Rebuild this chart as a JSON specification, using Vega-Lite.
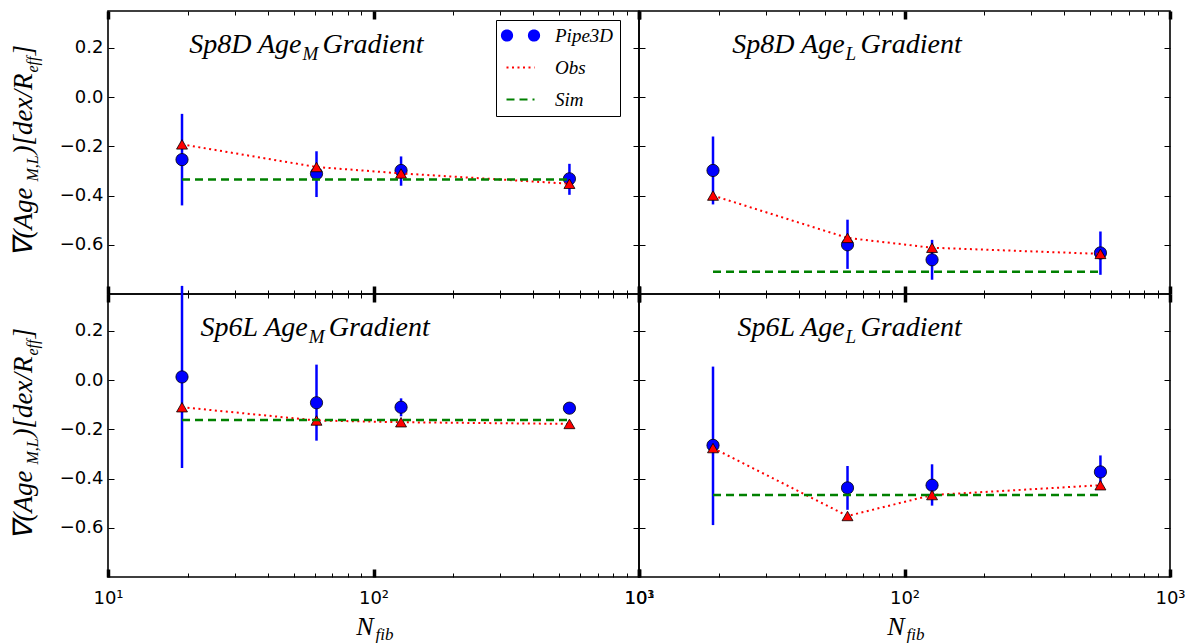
{
 "$schema": "https://vega.github.io/schema/vega-lite/v6.json",
 "background": "white",
 "padding": {"left": 8, "top": 8, "right": 2, "bottom": 0},
 "datasets": {
  "pts": [
   {"panel": "TL", "N": 19, "pipe": -0.254, "lo": -0.44, "hi": -0.068, "obs": -0.192, "sim": -0.335},
   {"panel": "TL", "N": 61, "pipe": -0.311, "lo": -0.406, "hi": -0.22, "obs": -0.284, "sim": -0.335},
   {"panel": "TL", "N": 127, "pipe": -0.298, "lo": -0.36, "hi": -0.241, "obs": -0.31, "sim": -0.335},
   {"panel": "TL", "N": 547, "pipe": -0.332, "lo": -0.397, "hi": -0.271, "obs": -0.352, "sim": -0.335},
   {"panel": "TR", "N": 19, "pipe": -0.298, "lo": -0.436, "hi": -0.16, "obs": -0.4, "sim": -0.71},
   {"panel": "TR", "N": 61, "pipe": -0.6, "lo": -0.698, "hi": -0.498, "obs": -0.572, "sim": -0.71},
   {"panel": "TR", "N": 127, "pipe": -0.661, "lo": -0.742, "hi": -0.58, "obs": -0.612, "sim": -0.71},
   {"panel": "TR", "N": 547, "pipe": -0.633, "lo": -0.722, "hi": -0.546, "obs": -0.637, "sim": -0.71},
   {"panel": "BL", "N": 19, "pipe": 0.013, "lo": -0.357, "hi": 0.383, "obs": -0.11, "sim": -0.162},
   {"panel": "BL", "N": 61, "pipe": -0.092, "lo": -0.246, "hi": 0.063, "obs": -0.164, "sim": -0.162},
   {"panel": "BL", "N": 127, "pipe": -0.11, "lo": -0.147, "hi": -0.074, "obs": -0.171, "sim": -0.162},
   {"panel": "BL", "N": 547, "pipe": -0.114, "lo": -0.13, "hi": -0.098, "obs": -0.178, "sim": -0.162},
   {"panel": "BR", "N": 19, "pipe": -0.265, "lo": -0.589, "hi": 0.055, "obs": -0.276, "sim": -0.467},
   {"panel": "BR", "N": 61, "pipe": -0.438, "lo": -0.527, "hi": -0.349, "obs": -0.552, "sim": -0.467},
   {"panel": "BR", "N": 127, "pipe": -0.427, "lo": -0.51, "hi": -0.342, "obs": -0.467, "sim": -0.467},
   {"panel": "BR", "N": 547, "pipe": -0.373, "lo": -0.44, "hi": -0.306, "obs": -0.427, "sim": -0.467}
  ]
 },
 "columns": 2,
 "spacing": 0,
 "bounds": "flush",
 "concat": [
   {
    "width": 531, "height": 283,
    "data": {"name": "pts"},
    "transform": [{"filter": "datum.panel === 'TL'"}],
    "resolve": {"axis": {"x": "independent", "y": "independent"}},
    "layer": [
     {"mark": {"type": "rule", "color": "#0000ff", "strokeWidth": 2.5},
      "encoding": {
       "x": {"field": "N", "type": "quantitative", "scale": {"type": "log", "domain": [10, 1000], "nice": false},
             "axis": {"orient": "bottom", "values": [10, 100, 1000], "tickSize": -8, "tickWidth": 3.5, "labels": false, "title": null}},
       "y": {"field": "lo", "type": "quantitative", "scale": {"domain": [-0.8, 0.35], "nice": false, "zero": false},
             "axis": {"orient": "left", "values": [-0.6, -0.4, -0.2, 0, 0.2], "format": ".1f", "tickSize": -6, "tickWidth": 1, "labelPadding": 11, "title": "∇(Age", "titleFontSize": 27, "titleAngle": 270, "titleX": -77, "titleY": 245, "titleAlign": "left", "titleBaseline": "alphabetic"}},
       "y2": {"field": "hi"}}},
     {"mark": {"type": "point", "shape": "circle", "filled": true, "size": 150, "fill": "#0000ff", "stroke": "black", "strokeWidth": 0.8, "opacity": 1},
      "encoding": {
       "x": {"field": "N", "type": "quantitative", "axis": {"orient": "top", "values": [10, 100, 1000], "tickSize": -8, "tickWidth": 3.5, "labels": false, "title": null}},
       "y": {"field": "pipe", "type": "quantitative", "axis": {"orient": "right", "values": [-0.6, -0.4, -0.2, 0, 0.2], "tickSize": -6, "tickWidth": 1, "labels": false, "title": null}}}},
     {"mark": {"type": "point", "filled": true, "opacity": 0},
      "encoding": {
       "x": {"field": "N", "type": "quantitative", "axis": null},
       "y": {"field": "pipe", "type": "quantitative", "axis": null},
       "shape": {"datum": "Pipe3D", "type": "nominal",
        "scale": {"domain": ["Pipe3D", "Obs", "Sim"], "range": ["M -3.7 0 A 1 1 0 1 0 -1.7 0 A 1 1 0 1 0 -3.7 0 Z M 1.7 0 A 1 1 0 1 0 3.7 0 A 1 1 0 1 0 1.7 0 Z", "M -2.8 0 L 2.8 0", "M -2.8 0 L 2.8 0"]},
        "legend": {"orient": "none", "legendX": 388, "legendY": 9, "title": null, "strokeColor": "black", "fillColor": "white", "padding": 6, "cornerRadius": 0,
         "labelFont": "Liberation Serif", "labelFontStyle": "italic", "labelFontSize": 19, "labelColor": "black",
         "symbolSize": 100, "symbolOffset": 9, "labelOffset": 25, "rowPadding": 12, "symbolOpacity": 1, "symbolStrokeWidth": 2.2}},
       "fill": {"datum": "Pipe3D", "type": "nominal", "scale": {"domain": ["Pipe3D", "Obs", "Sim"], "range": ["#0000ff", "transparent", "transparent"]}},
       "stroke": {"datum": "Pipe3D", "type": "nominal", "scale": {"domain": ["Pipe3D", "Obs", "Sim"], "range": ["#0000ff", "#ff0000", "#008000"]}},
       "strokeDash": {"datum": "Pipe3D", "type": "nominal", "scale": {"domain": ["Pipe3D", "Obs", "Sim"], "range": [[1, 0], [2, 3.5], [8, 5]]}}}},
     {"mark": {"type": "line", "strokeWidth": 2, "strokeDash": [2, 3.5], "color": "#ff0000"},
      "encoding": {
       "x": {"field": "N", "type": "quantitative", "axis": {"orient": "top", "values": [20, 30, 40, 50, 60, 70, 80, 90, 200, 300, 400, 500, 600, 700, 800, 900], "tickSize": -4, "tickWidth": 1, "labels": false, "title": null}},
       "y": {"field": "obs", "type": "quantitative", "axis": {"orient": "left", "ticks": false, "labels": false, "title": ")[dex/R", "titleFontSize": 27, "titleAngle": 270, "titleX": -77, "titleY": 143, "titleAlign": "left", "titleBaseline": "alphabetic"}}}},
     {"mark": {"type": "point", "shape": "triangle-up", "filled": true, "size": 120, "fill": "#ff0000", "stroke": "black", "strokeWidth": 0.8, "opacity": 1},
      "encoding": {
       "x": {"field": "N", "type": "quantitative", "axis": {"orient": "bottom", "values": [20, 30, 40, 50, 60, 70, 80, 90, 200, 300, 400, 500, 600, 700, 800, 900], "tickSize": -4, "tickWidth": 1, "labels": false, "title": null}},
       "y": {"field": "obs", "type": "quantitative", "axis": {"orient": "left", "ticks": false, "labels": false, "title": "M,L", "titleFontSize": 16, "titleAngle": 270, "titleX": -71, "titleY": 170, "titleAlign": "left", "titleBaseline": "alphabetic"}}}},
     {"mark": {"type": "line", "strokeWidth": 2.5, "strokeDash": [8, 5], "color": "#008000"},
      "encoding": {
       "x": {"field": "N", "type": "quantitative", "axis": null},
       "y": {"field": "sim", "type": "quantitative", "axis": {"orient": "left", "ticks": false, "labels": false, "title": "eff", "titleFontSize": 16, "titleAngle": 270, "titleX": -71, "titleY": 61, "titleAlign": "left", "titleBaseline": "alphabetic"}}}},
     {"transform": [{"filter": "datum.N == 19"}],
      "mark": {"type": "text", "text": "Sp8D Age", "align": "right", "baseline": "alphabetic", "font": "Liberation Serif", "fontStyle": "italic", "fontSize": 28, "dx": -1, "color": "black"},
      "encoding": {"x": {"datum": 54, "type": "quantitative", "axis": null},
       "y": {"datum": 0.18, "type": "quantitative", "axis": {"orient": "left", "ticks": false, "labels": false, "title": "]", "titleFontSize": 27, "titleAngle": 270, "titleX": -77, "titleY": 44, "titleAlign": "left", "titleBaseline": "alphabetic"}}}},
     {"transform": [{"filter": "datum.N == 19"}],
      "mark": {"type": "text", "text": "M", "align": "left", "baseline": "alphabetic", "font": "Liberation Serif", "fontStyle": "italic", "fontSize": 19, "dy": 7, "color": "black"},
      "encoding": {"x": {"datum": 54, "type": "quantitative", "axis": null}, "y": {"datum": 0.18, "type": "quantitative", "axis": null}}},
     {"transform": [{"filter": "datum.N == 19"}],
      "mark": {"type": "text", "text": "Gradient", "align": "left", "baseline": "alphabetic", "font": "Liberation Serif", "fontStyle": "italic", "fontSize": 28, "dx": 20, "color": "black"},
      "encoding": {"x": {"datum": 54, "type": "quantitative", "axis": null}, "y": {"datum": 0.18, "type": "quantitative", "axis": null}}}
    ]
   },
   {
    "width": 531, "height": 283,
    "data": {"name": "pts"},
    "transform": [{"filter": "datum.panel === 'TR'"}],
    "resolve": {"axis": {"x": "independent", "y": "independent"}},
    "layer": [
     {"mark": {"type": "rule", "color": "#0000ff", "strokeWidth": 2.5},
      "encoding": {
       "x": {"field": "N", "type": "quantitative", "scale": {"type": "log", "domain": [10, 1000], "nice": false},
             "axis": {"orient": "bottom", "values": [10, 100, 1000], "tickSize": -8, "tickWidth": 3.5, "labels": false, "title": null}},
       "y": {"field": "lo", "type": "quantitative", "scale": {"domain": [-0.8, 0.35], "nice": false, "zero": false},
             "axis": {"orient": "left", "values": [-0.6, -0.4, -0.2, 0, 0.2], "tickSize": -6, "tickWidth": 1, "labels": false, "title": null}},
       "y2": {"field": "hi"}}},
     {"mark": {"type": "point", "shape": "circle", "filled": true, "size": 150, "fill": "#0000ff", "stroke": "black", "strokeWidth": 0.8, "opacity": 1},
      "encoding": {
       "x": {"field": "N", "type": "quantitative", "axis": {"orient": "top", "values": [10, 100, 1000], "tickSize": -8, "tickWidth": 3.5, "labels": false, "title": null}},
       "y": {"field": "pipe", "type": "quantitative", "axis": {"orient": "right", "values": [-0.6, -0.4, -0.2, 0, 0.2], "tickSize": -6, "tickWidth": 1, "labels": false, "title": null}}}},
     {"mark": {"type": "line", "strokeWidth": 2, "strokeDash": [2, 3.5], "color": "#ff0000"},
      "encoding": {
       "x": {"field": "N", "type": "quantitative", "axis": {"orient": "top", "values": [20, 30, 40, 50, 60, 70, 80, 90, 200, 300, 400, 500, 600, 700, 800, 900], "tickSize": -4, "tickWidth": 1, "labels": false, "title": null}},
       "y": {"field": "obs", "type": "quantitative", "axis": null}}},
     {"mark": {"type": "point", "shape": "triangle-up", "filled": true, "size": 120, "fill": "#ff0000", "stroke": "black", "strokeWidth": 0.8, "opacity": 1},
      "encoding": {
       "x": {"field": "N", "type": "quantitative", "axis": {"orient": "bottom", "values": [20, 30, 40, 50, 60, 70, 80, 90, 200, 300, 400, 500, 600, 700, 800, 900], "tickSize": -4, "tickWidth": 1, "labels": false, "title": null}},
       "y": {"field": "obs", "type": "quantitative", "axis": null}}},
     {"mark": {"type": "line", "strokeWidth": 2.5, "strokeDash": [8, 5], "color": "#008000"},
      "encoding": {
       "x": {"field": "N", "type": "quantitative", "axis": null},
       "y": {"field": "sim", "type": "quantitative", "axis": null}}},
     {"transform": [{"filter": "datum.N == 19"}],
      "mark": {"type": "text", "text": "Sp8D Age", "align": "right", "baseline": "alphabetic", "font": "Liberation Serif", "fontStyle": "italic", "fontSize": 28, "dx": -1, "color": "black"},
      "encoding": {"x": {"datum": 60, "type": "quantitative", "axis": null}, "y": {"datum": 0.18, "type": "quantitative", "axis": null}}},
     {"transform": [{"filter": "datum.N == 19"}],
      "mark": {"type": "text", "text": "L", "align": "left", "baseline": "alphabetic", "font": "Liberation Serif", "fontStyle": "italic", "fontSize": 19, "dy": 7, "color": "black"},
      "encoding": {"x": {"datum": 60, "type": "quantitative", "axis": null}, "y": {"datum": 0.18, "type": "quantitative", "axis": null}}},
     {"transform": [{"filter": "datum.N == 19"}],
      "mark": {"type": "text", "text": "Gradient", "align": "left", "baseline": "alphabetic", "font": "Liberation Serif", "fontStyle": "italic", "fontSize": 28, "dx": 15, "color": "black"},
      "encoding": {"x": {"datum": 60, "type": "quantitative", "axis": null}, "y": {"datum": 0.18, "type": "quantitative", "axis": null}}}
    ]
   },
   {
    "width": 531, "height": 283,
    "data": {"name": "pts"},
    "transform": [{"filter": "datum.panel === 'BL'"}],
    "resolve": {"axis": {"x": "independent", "y": "independent"}},
    "layer": [
     {"mark": {"type": "rule", "color": "#0000ff", "strokeWidth": 2.5},
      "encoding": {
       "x": {"field": "N", "type": "quantitative", "scale": {"type": "log", "domain": [10, 1000], "nice": false},
             "axis": {"orient": "bottom", "values": [10, 100, 1000], "tickSize": -8, "tickWidth": 3.5, "labelPadding": 20, "labelExpr": "datum.value == 10 ? '10¹' : datum.value == 100 ? '10²' : '10³'", "title": "N", "titleFontSize": 26, "titleX": 265, "titleY": 57, "titleAlign": "right", "titleBaseline": "alphabetic", "titleAngle": 0}},
       "y": {"field": "lo", "type": "quantitative", "scale": {"domain": [-0.8, 0.35], "nice": false, "zero": false},
             "axis": {"orient": "left", "values": [-0.6, -0.4, -0.2, 0, 0.2], "format": ".1f", "tickSize": -6, "tickWidth": 1, "labelPadding": 11, "title": "∇(Age", "titleFontSize": 27, "titleAngle": 270, "titleX": -77, "titleY": 245, "titleAlign": "left", "titleBaseline": "alphabetic"}},
       "y2": {"field": "hi"}}},
     {"mark": {"type": "point", "shape": "circle", "filled": true, "size": 150, "fill": "#0000ff", "stroke": "black", "strokeWidth": 0.8, "opacity": 1},
      "encoding": {
       "x": {"field": "N", "type": "quantitative", "axis": {"orient": "top", "values": [10, 100, 1000], "tickSize": -8, "tickWidth": 3.5, "labels": false, "title": null}},
       "y": {"field": "pipe", "type": "quantitative", "axis": {"orient": "right", "values": [-0.6, -0.4, -0.2, 0, 0.2], "tickSize": -6, "tickWidth": 1, "labels": false, "title": null}}}},
     {"mark": {"type": "line", "strokeWidth": 2, "strokeDash": [2, 3.5], "color": "#ff0000"},
      "encoding": {
       "x": {"field": "N", "type": "quantitative", "axis": {"orient": "top", "values": [20, 30, 40, 50, 60, 70, 80, 90, 200, 300, 400, 500, 600, 700, 800, 900], "tickSize": -4, "tickWidth": 1, "labels": false, "title": null}},
       "y": {"field": "obs", "type": "quantitative", "axis": {"orient": "left", "ticks": false, "labels": false, "title": ")[dex/R", "titleFontSize": 27, "titleAngle": 270, "titleX": -77, "titleY": 143, "titleAlign": "left", "titleBaseline": "alphabetic"}}}},
     {"mark": {"type": "point", "shape": "triangle-up", "filled": true, "size": 120, "fill": "#ff0000", "stroke": "black", "strokeWidth": 0.8, "opacity": 1},
      "encoding": {
       "x": {"field": "N", "type": "quantitative", "axis": {"orient": "bottom", "values": [20, 30, 40, 50, 60, 70, 80, 90, 200, 300, 400, 500, 600, 700, 800, 900], "tickSize": -4, "tickWidth": 1, "labels": false, "title": null}},
       "y": {"field": "obs", "type": "quantitative", "axis": {"orient": "left", "ticks": false, "labels": false, "title": "M,L", "titleFontSize": 16, "titleAngle": 270, "titleX": -71, "titleY": 170, "titleAlign": "left", "titleBaseline": "alphabetic"}}}},
     {"mark": {"type": "line", "strokeWidth": 2.5, "strokeDash": [8, 5], "color": "#008000"},
      "encoding": {
       "x": {"field": "N", "type": "quantitative", "axis": {"orient": "bottom", "ticks": false, "labels": false, "title": "fib", "titleFontSize": 17, "titleX": 267, "titleY": 62, "titleAlign": "left", "titleBaseline": "alphabetic", "titleAngle": 0}},
       "y": {"field": "sim", "type": "quantitative", "axis": {"orient": "left", "ticks": false, "labels": false, "title": "eff", "titleFontSize": 16, "titleAngle": 270, "titleX": -71, "titleY": 61, "titleAlign": "left", "titleBaseline": "alphabetic"}}}},
     {"transform": [{"filter": "datum.N == 19"}],
      "mark": {"type": "text", "text": "Sp6L Age", "align": "right", "baseline": "alphabetic", "font": "Liberation Serif", "fontStyle": "italic", "fontSize": 28, "dx": -1, "color": "black"},
      "encoding": {"x": {"datum": 57, "type": "quantitative", "axis": null},
       "y": {"datum": 0.18, "type": "quantitative", "axis": {"orient": "left", "ticks": false, "labels": false, "title": "]", "titleFontSize": 27, "titleAngle": 270, "titleX": -77, "titleY": 44, "titleAlign": "left", "titleBaseline": "alphabetic"}}}},
     {"transform": [{"filter": "datum.N == 19"}],
      "mark": {"type": "text", "text": "M", "align": "left", "baseline": "alphabetic", "font": "Liberation Serif", "fontStyle": "italic", "fontSize": 19, "dy": 7, "color": "black"},
      "encoding": {"x": {"datum": 57, "type": "quantitative", "axis": null}, "y": {"datum": 0.18, "type": "quantitative", "axis": null}}},
     {"transform": [{"filter": "datum.N == 19"}],
      "mark": {"type": "text", "text": "Gradient", "align": "left", "baseline": "alphabetic", "font": "Liberation Serif", "fontStyle": "italic", "fontSize": 28, "dx": 20, "color": "black"},
      "encoding": {"x": {"datum": 57, "type": "quantitative", "axis": null}, "y": {"datum": 0.18, "type": "quantitative", "axis": null}}}
    ]
   },
   {
    "width": 531, "height": 283,
    "data": {"name": "pts"},
    "transform": [{"filter": "datum.panel === 'BR'"}],
    "resolve": {"axis": {"x": "independent", "y": "independent"}},
    "layer": [
     {"mark": {"type": "rule", "color": "#0000ff", "strokeWidth": 2.5},
      "encoding": {
       "x": {"field": "N", "type": "quantitative", "scale": {"type": "log", "domain": [10, 1000], "nice": false},
             "axis": {"orient": "bottom", "values": [10, 100, 1000], "tickSize": -8, "tickWidth": 3.5, "labelPadding": 20, "labelExpr": "datum.value == 10 ? '10¹' : datum.value == 100 ? '10²' : '10³'", "title": "N", "titleFontSize": 26, "titleX": 265, "titleY": 57, "titleAlign": "right", "titleBaseline": "alphabetic", "titleAngle": 0}},
       "y": {"field": "lo", "type": "quantitative", "scale": {"domain": [-0.8, 0.35], "nice": false, "zero": false},
             "axis": {"orient": "left", "values": [-0.6, -0.4, -0.2, 0, 0.2], "tickSize": -6, "tickWidth": 1, "labels": false, "title": null}},
       "y2": {"field": "hi"}}},
     {"mark": {"type": "point", "shape": "circle", "filled": true, "size": 150, "fill": "#0000ff", "stroke": "black", "strokeWidth": 0.8, "opacity": 1},
      "encoding": {
       "x": {"field": "N", "type": "quantitative", "axis": {"orient": "top", "values": [10, 100, 1000], "tickSize": -8, "tickWidth": 3.5, "labels": false, "title": null}},
       "y": {"field": "pipe", "type": "quantitative", "axis": {"orient": "right", "values": [-0.6, -0.4, -0.2, 0, 0.2], "tickSize": -6, "tickWidth": 1, "labels": false, "title": null}}}},
     {"mark": {"type": "line", "strokeWidth": 2, "strokeDash": [2, 3.5], "color": "#ff0000"},
      "encoding": {
       "x": {"field": "N", "type": "quantitative", "axis": {"orient": "top", "values": [20, 30, 40, 50, 60, 70, 80, 90, 200, 300, 400, 500, 600, 700, 800, 900], "tickSize": -4, "tickWidth": 1, "labels": false, "title": null}},
       "y": {"field": "obs", "type": "quantitative", "axis": null}}},
     {"mark": {"type": "point", "shape": "triangle-up", "filled": true, "size": 120, "fill": "#ff0000", "stroke": "black", "strokeWidth": 0.8, "opacity": 1},
      "encoding": {
       "x": {"field": "N", "type": "quantitative", "axis": {"orient": "bottom", "values": [20, 30, 40, 50, 60, 70, 80, 90, 200, 300, 400, 500, 600, 700, 800, 900], "tickSize": -4, "tickWidth": 1, "labels": false, "title": null}},
       "y": {"field": "obs", "type": "quantitative", "axis": null}}},
     {"mark": {"type": "line", "strokeWidth": 2.5, "strokeDash": [8, 5], "color": "#008000"},
      "encoding": {
       "x": {"field": "N", "type": "quantitative", "axis": {"orient": "bottom", "ticks": false, "labels": false, "title": "fib", "titleFontSize": 17, "titleX": 267, "titleY": 62, "titleAlign": "left", "titleBaseline": "alphabetic", "titleAngle": 0}},
       "y": {"field": "sim", "type": "quantitative", "axis": null}}},
     {"transform": [{"filter": "datum.N == 19"}],
      "mark": {"type": "text", "text": "Sp6L Age", "align": "right", "baseline": "alphabetic", "font": "Liberation Serif", "fontStyle": "italic", "fontSize": 28, "dx": -1, "color": "black"},
      "encoding": {"x": {"datum": 60, "type": "quantitative", "axis": null}, "y": {"datum": 0.18, "type": "quantitative", "axis": null}}},
     {"transform": [{"filter": "datum.N == 19"}],
      "mark": {"type": "text", "text": "L", "align": "left", "baseline": "alphabetic", "font": "Liberation Serif", "fontStyle": "italic", "fontSize": 19, "dy": 7, "color": "black"},
      "encoding": {"x": {"datum": 60, "type": "quantitative", "axis": null}, "y": {"datum": 0.18, "type": "quantitative", "axis": null}}},
     {"transform": [{"filter": "datum.N == 19"}],
      "mark": {"type": "text", "text": "Gradient", "align": "left", "baseline": "alphabetic", "font": "Liberation Serif", "fontStyle": "italic", "fontSize": 28, "dx": 15, "color": "black"},
      "encoding": {"x": {"datum": 60, "type": "quantitative", "axis": null}, "y": {"datum": 0.18, "type": "quantitative", "axis": null}}}
    ]
   }
 ],
 "config": {
  "view": {"stroke": "black", "strokeWidth": 1.6},
  "axis": {"grid": false, "domain": false, "tickColor": "black", "labelColor": "black", "labelFont": "DejaVu Sans", "labelFontSize": 18, "titleColor": "black", "titleFont": "Liberation Serif", "titleFontStyle": "italic", "titleFontWeight": "normal", "labelFlush": false, "labelOverlap": false}
 }
}
